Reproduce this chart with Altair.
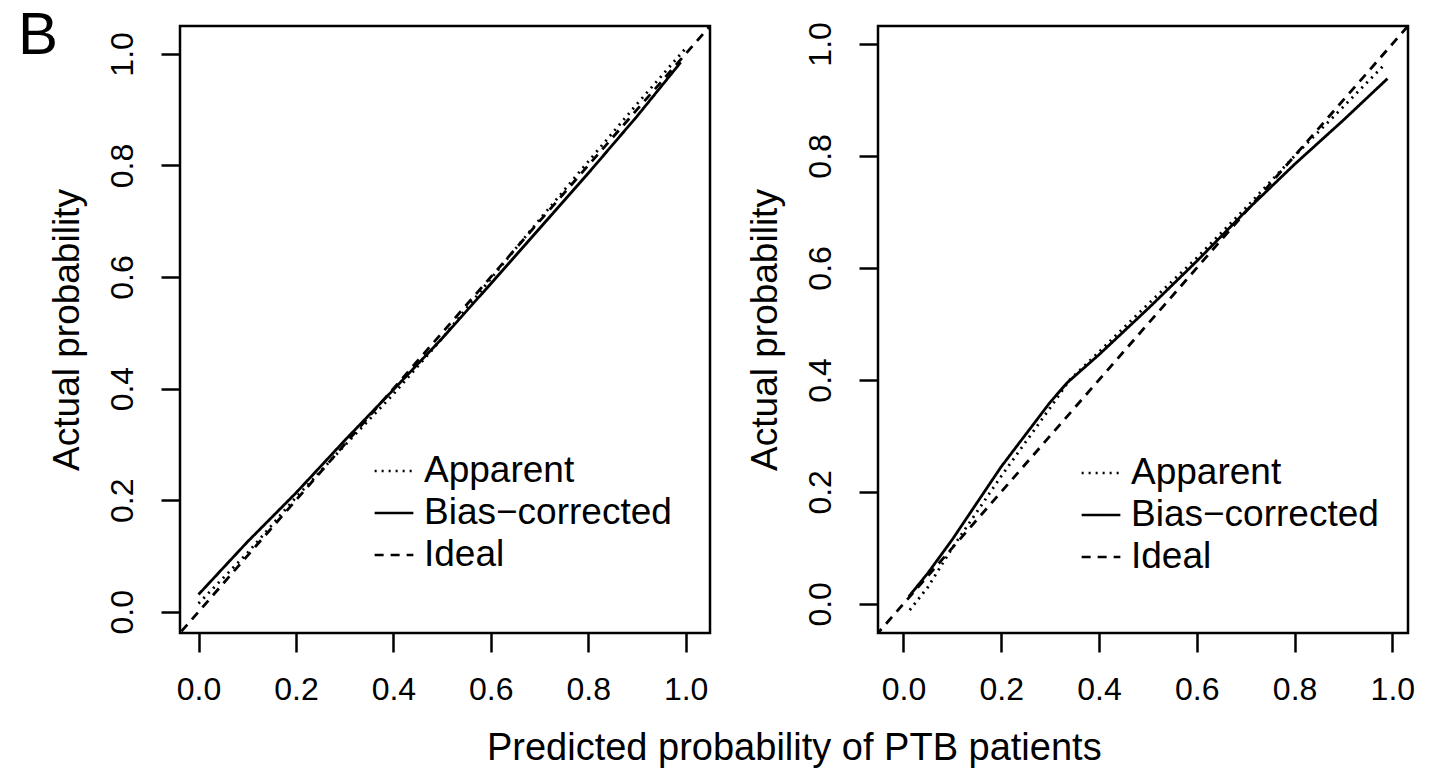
import altair as alt
import pandas as pd

SERIES = ["Apparent", "Bias\u2212corrected", "Ideal"]
DASHES = [[2, 5], [1, 0], [9, 7]]
TICKS = [0.0, 0.2, 0.4, 0.6, 0.8, 1.0]

# Left panel
left_app_x = [0.0, 0.1, 0.2, 0.3, 0.4, 0.5, 0.6, 0.7, 0.8, 0.9, 1.0]
left_app_y = [0.015, 0.105, 0.205, 0.298, 0.390, 0.490, 0.597, 0.703, 0.807, 0.910, 1.010]
left_bc_x = [0.0, 0.1, 0.2, 0.3, 0.4, 0.5, 0.6, 0.7, 0.8, 0.9, 0.99]
left_bc_y = [0.031, 0.125, 0.213, 0.307, 0.398, 0.490, 0.588, 0.687, 0.786, 0.888, 0.985]

# Right panel
right_app_x = [0.013, 0.05, 0.1, 0.2, 0.3, 0.34, 0.4, 0.5, 0.6, 0.7, 0.8, 0.9, 0.985]
right_app_y = [-0.011, 0.030, 0.100, 0.228, 0.350, 0.400, 0.450, 0.535, 0.618, 0.707, 0.800, 0.888, 0.964]
right_bc_x = [0.011, 0.05, 0.1, 0.2, 0.3, 0.335, 0.4, 0.5, 0.6, 0.7, 0.8, 0.9, 0.99]
right_bc_y = [0.013, 0.055, 0.115, 0.245, 0.360, 0.395, 0.445, 0.527, 0.612, 0.701, 0.785, 0.864, 0.938]

ideal_xy = [-0.1, 1.1]

left_domain = [-0.038, 1.05]
right_domain = [-0.052, 1.032]

FONT = "Liberation Sans"


def make_df(ax, ay, bx, by):
    rows = []
    for x, y in zip(ax, ay):
        rows.append({"x": x, "y": y, "s": SERIES[0]})
    for x, y in zip(bx, by):
        rows.append({"x": x, "y": y, "s": SERIES[1]})
    for v in ideal_xy:
        rows.append({"x": v, "y": v, "s": SERIES[2]})
    return pd.DataFrame(rows)


def panel(df, dom, lx, ly, with_b):
    lines = alt.Chart(df).mark_line(strokeWidth=2.8, color="black", clip=True).encode(
        x=alt.X("x:Q", scale=alt.Scale(domain=dom, nice=False, zero=False),
                axis=alt.Axis(values=TICKS, format=".1f", title=None,
                              labelPadding=22)),
        y=alt.Y("y:Q", scale=alt.Scale(domain=dom, nice=False, zero=False),
                axis=alt.Axis(values=TICKS, format=".1f", title="Actual probability",
                              labelAngle=270, labelAlign="center",
                              labelBaseline="bottom", labelPadding=22,
                              titlePadding=20)),
        strokeDash=alt.StrokeDash(
            "s:N",
            scale=alt.Scale(domain=SERIES, range=DASHES),
            legend=alt.Legend(title=None, orient="none", legendX=lx, legendY=ly,
                              symbolType="stroke", symbolSize=1500,
                              symbolStrokeWidth=2.5, symbolStrokeColor="black",
                              labelFontSize=37, labelFont=FONT, labelColor="black",
                              labelLimit=0, labelOffset=9, rowPadding=3, padding=0),
        ),
    )
    layers = [lines]
    if with_b:
        b = alt.Chart(pd.DataFrame({"t": ["B"]})).mark_text(
            fontSize=60, font=FONT, align="left", baseline="alphabetic", color="black"
        ).encode(x=alt.value(-162), y=alt.value(28), text="t:N")
        layers.append(b)
    return alt.layer(*layers).properties(width=530, height=607)


left = panel(make_df(left_app_x, left_app_y, left_bc_x, left_bc_y), left_domain, 193, 424, True)
right = panel(make_df(right_app_x, right_app_y, right_bc_x, right_bc_y), right_domain, 202, 426, False)

chart = alt.hconcat(
    left, right, spacing=32,
    title=alt.TitleParams("Predicted probability of PTB patients", orient="bottom",
                          anchor="middle", fontSize=38, font=FONT, fontWeight="normal",
                          color="black", offset=24, dx=78),
).resolve_scale(strokeDash="independent", x="independent", y="independent").resolve_legend(
    strokeDash="independent"
).properties(
    padding={"left": 16, "top": 4, "right": 5, "bottom": 5},
    background="white",
).configure_view(
    stroke="black", strokeWidth=2.5
).configure_axis(
    domain=False, grid=False, ticks=True, tickColor="black", tickSize=19, tickWidth=2.5,
    labelFont=FONT, labelFontSize=32, labelColor="black",
    titleFont=FONT, titleFontSize=37, titleFontWeight="normal", titleColor="black",
)

chart.save("out.html", embed_options={"renderer": "svg", "actions": False})
